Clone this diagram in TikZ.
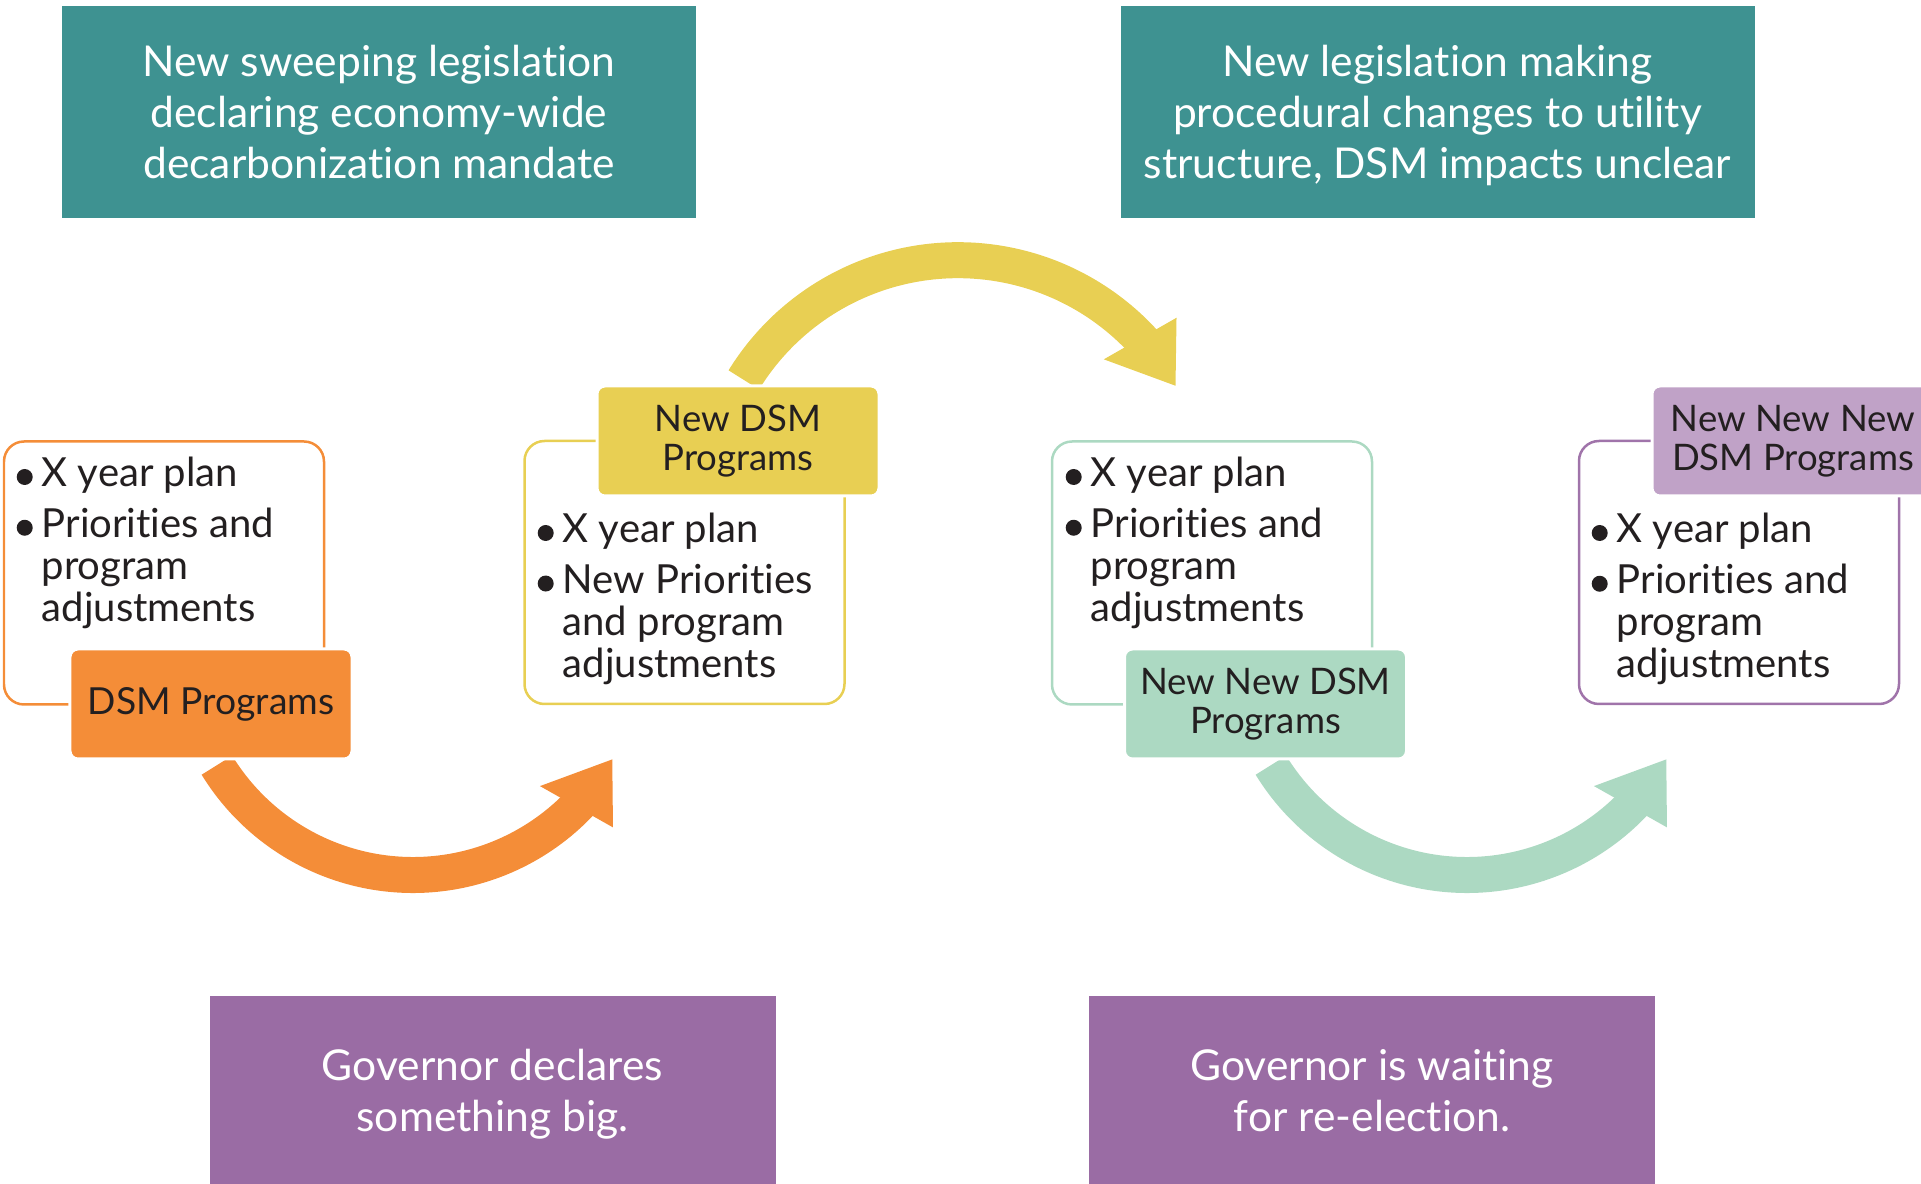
\documentclass[tikz,border=0pt]{standalone}
\usepackage{fontspec}
\setmainfont{Lato}[Ligatures=NoCommon]
\usepackage{tikz}
\usetikzlibrary{calc}
\usetikzlibrary{backgrounds}

\definecolor{legteal}{RGB}{62,146,145}
\definecolor{govpurple}{RGB}{154,108,164}
\definecolor{dsmorange}{RGB}{244,141,56}
\definecolor{dsmyellow}{RGB}{232,207,83}
\definecolor{dsmgreen}{RGB}{172,217,194}
\definecolor{dsmlilac}{RGB}{192,162,199}
\definecolor{lilacline}{RGB}{160,116,170}
\definecolor{ink}{RGB}{35,31,32}

\newcommand{\bigfont}{\fontsize{12.1pt}{14.5pt}\selectfont}
\newcommand{\planfont}{\fontsize{11.4pt}{11.9pt}\selectfont}
\newcommand{\tagfont}{\fontsize{10.4pt}{11.1pt}\selectfont}
\newcommand{\dsmdot}{\raisebox{0.02cm}{\tikz\fill (0,0) circle (0.08cm);}}

\begin{document}
\begin{tikzpicture}[every node/.style={inner sep=0pt, text=ink},
  lawbox/.style={fill=legteal, text=white, minimum width=6.34cm, minimum height=2.12cm, align=center, text depth=0pt, font=\bigfont},
  govbox/.style={fill=govpurple, text=white, minimum width=5.66cm, minimum height=1.89cm, align=center, text depth=0pt, font=\bigfont},
  planbox/.style={draw, rounded corners=0.2cm, line width=0.025cm, minimum width=3.2cm, minimum height=2.63cm},
  tagbox/.style={draw=white, rounded corners=0.08cm, line width=0.03cm, minimum width=2.82cm, minimum height=1.1cm, align=center, font=\tagfont},
  plan/.style={anchor=base west, font=\planfont},
  band/.style={line width=0.36cm}]
\useasboundingbox (0,0) rectangle (19.21,-11.84);
\clip (0,0) rectangle (19.21,-11.84);

\node[lawbox] (law1) at (3.79,-1.12) {New sweeping legislation\\declaring economy-wide\\decarbonization mandate};
\node[lawbox] (law2) at (14.375,-1.12) {New legislation making\\procedural changes to utility\\structure, DSM impacts unclear};
\node[govbox] (gov1) at (4.925,-10.905) {Governor declares\\something big.};
\node[govbox] (gov2) at (13.72,-10.905) {Governor is waiting\\for re-election.};

\node[planbox, draw=dsmorange] (plan1) at (1.64,-5.73) {};
\node[planbox, draw=dsmyellow] (plan2) at (6.845,-5.725) {};
\node[planbox, draw=dsmgreen] (plan3) at (12.12,-5.73) {};
\node[planbox, draw=lilacline] (plan4) at (17.39,-5.725) {};

\node[plan] (list1) at (0.16,-4.87) {\begin{tabular}[t]{@{}p{0.25cm}@{}l@{}}
\dsmdot & X year plan\\[0.087cm]
\dsmdot & Priorities and\\
 & program\\
 & adjustments
\end{tabular}};
\node[plan] (list2) at (5.37,-5.43) {\begin{tabular}[t]{@{}p{0.25cm}@{}l@{}}
\dsmdot & X year plan\\[0.087cm]
\dsmdot & New Priorities\\
 & and program\\
 & adjustments
\end{tabular}};
\node[plan] (list3) at (10.65,-4.87) {\begin{tabular}[t]{@{}p{0.25cm}@{}l@{}}
\dsmdot & X year plan\\[0.087cm]
\dsmdot & Priorities and\\
 & program\\
 & adjustments
\end{tabular}};
\node[plan] (list4) at (15.91,-5.43) {\begin{tabular}[t]{@{}p{0.25cm}@{}l@{}}
\dsmdot & X year plan\\[0.087cm]
\dsmdot & Priorities and\\
 & program\\
 & adjustments
\end{tabular}};

\node[tagbox, fill=dsmorange] (tag1) at (2.11,-7.04) {\fontsize{10.6pt}{11.1pt}\selectfont DSM Programs};
\node[tagbox, fill=dsmyellow] (tag2) at (7.38,-4.41) {New DSM\\Programs};
\node[tagbox, fill=dsmgreen] (tag3) at (12.655,-7.04) {New New DSM\\Programs};
\node[tagbox, fill=dsmlilac] (tag4) at (17.93,-4.41) {New New New\\DSM Programs};

\coordinate (oa) at (2.169,-7.652);
\coordinate (ya) at (7.438,-3.799);
\coordinate (ga) at (12.709,-7.652);

\begin{scope}[on background layer]
\draw[band, dsmorange] (oa) arc[start angle=211.5, end angle=315.3, radius=2.30] coordinate (ob) arc[start angle=315.3, end angle=317.5, radius=2.30];
\fill[dsmorange] ($(ob)+(-0.365,0.207)$) -- ($(ob)+(0.358,0.474)$) -- ($(ob)+(0.365,-0.206)$) -- cycle;
\draw[band, dsmyellow] (ya) arc[start angle=148.4, end angle=43.6, radius=2.515] coordinate (yb) arc[start angle=43.6, end angle=41.4, radius=2.515];
\fill[dsmyellow] ($(yb)+(0.364,0.205)$) -- ($(yb)+(0.354,-0.475)$) -- ($(yb)+(-0.363,-0.211)$) -- cycle;
\draw[band, dsmgreen] (ga) arc[start angle=211.5, end angle=315.3, radius=2.30] coordinate (gb) arc[start angle=315.3, end angle=317.5, radius=2.30];
\fill[dsmgreen] ($(gb)+(-0.365,0.207)$) -- ($(gb)+(0.358,0.474)$) -- ($(gb)+(0.365,-0.206)$) -- cycle;
\end{scope}
\end{tikzpicture}
\end{document}
